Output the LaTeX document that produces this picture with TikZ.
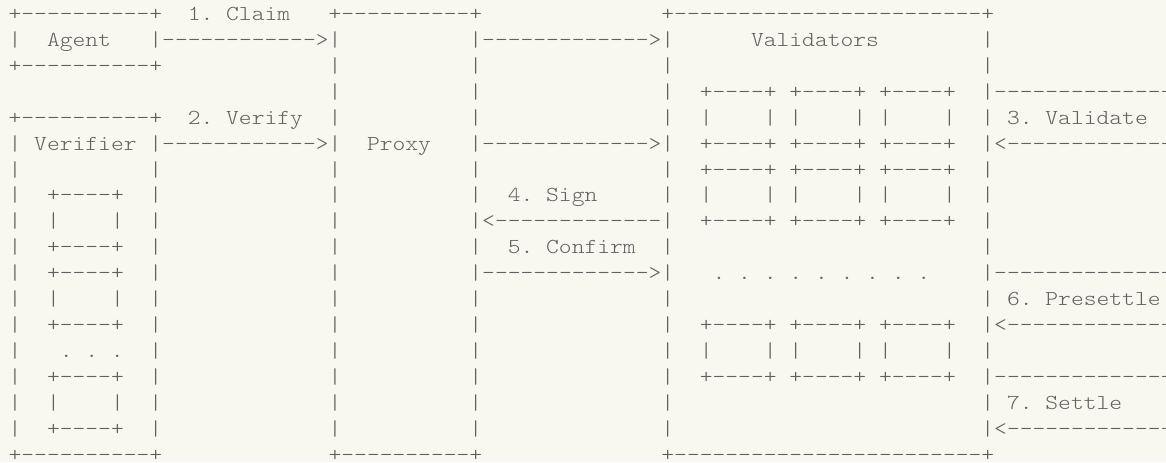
\documentclass[tikz,border=0pt]{standalone}
\usepackage{fontspec}
\newfontfamily\asciifont{Latin Modern Mono Light}[FakeStretch=1.143,WordSpace={1,0,0},PunctuationSpace=WordSpace]
\definecolor{paper}{RGB}{248,247,240}
\definecolor{ink}{RGB}{96,96,96}
\tikzset{
  ascii/.style={anchor=base west, inner sep=0pt, outer sep=0pt, text=ink,
    font=\asciifont\fontsize{21.33}{26}\selectfont\frenchspacing},
  edge row/.style={ascii, text depth=0pt},
}
\begin{document}
\begin{tikzpicture}[x=12.8pt, y=-25.94pt]
% one unit = one character cell; rows grow downwards
\useasboundingbox (-0.672,-0.786) rectangle (90.42,17.024);
\fill[paper] (-0.672,-0.786) rectangle (90.42,17.024);
\clip (-0.672,-0.786) rectangle (90.42,17.024);

% ---- outer frames (top and bottom edges) ----
\node[ascii] (agentTop)   at (0,0)  {+----------+};
\node[ascii] (agentBot)   at (0,2)  {+----------+};
\node[ascii] (verifTop)   at (0,4)  {+----------+};
\node[edge row] (verifBot)   at (0,17) {+----------+};
\node[ascii] (proxyTop)   at (25,0) {+----------+};
\node[edge row] (proxyBot)   at (25,17) {+----------+};
\node[ascii] (validTop)   at (51,0) {+------------------------+};
\node[edge row] (validBot)   at (51,17) {+------------------------+};

% ---- vertical sides ----
\foreach \c in {0,11}
  \foreach \r in {1,5,6,7,8,9,10,11,12,13,14,15,16}
    \node[ascii] (side-\c-\r) at (\c,\r) {|};
\foreach \c in {25,36,51,76}
  \foreach \r in {1,...,16}
    \node[ascii] (side-\c-\r) at (\c,\r) {|};

% ---- box titles ----
\node[ascii] (agent)      at (3,1)  {Agent};
\node[ascii] (verifier)   at (2,5)  {Verifier};
\node[ascii] (proxy)      at (28,5) {Proxy};
\node[ascii] (validators) at (58,1) {Validators};

% ---- small boxes inside the verifier ----
\foreach \t/\m/\b in {7/8/9, 10/11/12, 14/15/16} {
  \node[ascii] (vsTop-\t) at (3,\t) {+----+};
  \node[ascii] (vsL-\t)   at (3,\m) {|};
  \node[ascii] (vsR-\t)   at (8,\m) {|};
  \node[ascii] (vsBot-\t) at (3,\b) {+----+};
}
\node[ascii] (vsDots) at (4,13) {. . .};

% ---- grid of small boxes inside the validators ----
\foreach \t/\m/\b in {3/4/5, 6/7/8, 12/13/14}
  \foreach \c in {54,61,68} {
    \node[ascii] (gTop-\c-\t) at (\c,\t)   {+----+};
    \node[ascii] (gL-\c-\t)   at (\c,\m)   {|};
    \node[ascii] (gR-\c-\t)   at (\c+5,\m) {|};
    \node[ascii] (gBot-\c-\t) at (\c,\b)   {+----+};
  }
\node[ascii] (gDots) at (55,10) {. . . . . . . . .};

% ---- message arrows and their labels ----
\node[ascii] (claimLbl)  at (14,0) {1. Claim};
\node[ascii] (claim)     at (12,1) {------------>};
\node[ascii] (fwdOne)    at (37,1) {------------->};
\node[ascii] (verifyLbl) at (14,4) {2. Verify};
\node[ascii] (verify)    at (12,5) {------------>};
\node[ascii] (fwdTwo)    at (37,5) {------------->};
\node[ascii] (signLbl)   at (39,7) {4. Sign};
\node[ascii] (sign)      at (37,8) {<-------------};
\node[ascii] (confLbl)   at (39,9) {5. Confirm};
\node[ascii] (confirm)   at (37,10) {------------->};

\node[ascii] (valTail)   at (77,3)  {--------------};
\node[ascii] (valLbl)    at (78,4)  {3. Validate};
\node[ascii] (validate)  at (77,5)  {<-------------};
\node[ascii] (preTail)   at (77,10) {--------------};
\node[ascii] (preLbl)    at (78,11) {6. Presettle};
\node[ascii] (presettle) at (77,12) {<-------------};
\node[ascii] (setTail)   at (77,14) {--------------};
\node[ascii] (setLbl)    at (78,15) {7. Settle};
\node[ascii] (settle)    at (77,16) {<-------------};
\end{tikzpicture}
\end{document}
